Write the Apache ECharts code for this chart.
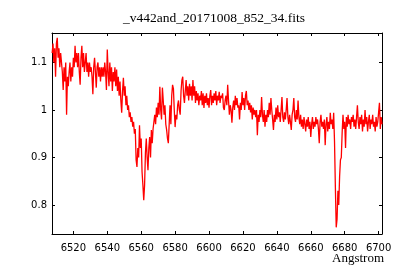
<!DOCTYPE html>
<html>
<head>
<meta charset="utf-8">
<script src="https://cdn.jsdelivr.net/npm/echarts@6/dist/echarts.min.js"></script>
<style>html,body{margin:0;padding:0;background:#fff}#c{width:400px;height:280px}</style>
</head>
<body>
<div id="c"></div>
<script>
const chartTitle = '_v442and_20171008_852_34.fits';
const xAxisTitle = 'Angstrom';
const xRange = [6507.4, 6702];
const yRange = [0.739, 1.162];
const lambdaStart = 6507.5;
const lambdaStep = 0.5;
const flux = [
 1.12,1.14,1.10,1.13,1.07,1.14,1.152,1.11,1.13,1.09,1.12,1.10,1.08,1.042,1.09,1.06,1.10,0.99,1.07,1.05,
 1.08,1.10,1.06,1.09,1.07,1.11,1.09,1.135,1.10,1.12,1.09,1.12,1.08,1.053,1.11,1.135,1.09,1.12,1.08,1.10,
 1.12,1.08,1.10,1.07,1.10,1.08,1.09,1.07,1.033,1.09,1.11,1.08,1.047,1.09,1.10,1.07,1.09,1.06,1.09,1.07,
 1.09,1.07,1.10,1.08,1.042,1.127,1.08,1.05,1.10,1.06,1.09,1.04,1.08,1.06,1.09,1.05,1.085,1.04,1.07,1.03,
 1.06,1.02,0.994,1.04,1.068,1.03,1.05,1.01,1.03,1.00,1.01,0.985,0.995,0.975,0.985,0.965,0.975,0.95,0.96,0.895,
 0.88,0.92,0.90,0.968,0.92,0.94,0.87,0.842,0.81,0.842,0.91,0.94,0.90,0.873,0.92,0.943,0.90,0.958,0.93,0.96,
 0.975,0.99,0.97,1.005,0.985,1.015,0.99,1.049,1.00,0.98,1.047,1.02,0.99,1.01,0.97,0.958,0.94,0.93,0.97,1.01,
 0.97,1.03,1.053,1.045,1.00,0.964,0.99,0.98,1.01,1.02,1.00,0.99,1.04,1.063,1.07,1.03,1.015,1.04,1.063,1.03,
 1.05,1.02,1.055,1.03,1.05,1.02,1.063,1.03,1.05,1.015,1.04,1.02,1.035,1.01,1.03,1.02,1.04,1.01,1.035,1.004,
 1.03,1.015,1.035,1.01,1.025,1.005,1.03,1.042,1.01,1.03,1.015,1.035,1.02,1.04,1.01,1.03,1.02,1.038,1.015,1.03,
 1.025,1.035,1.005,1.00,1.02,1.03,1.01,1.053,1.02,0.99,1.01,1.00,0.973,1.005,1.02,1.00,1.03,1.01,1.025,1.005,
 1.01,0.98,1.015,1.00,1.038,1.01,1.025,1.00,1.03,1.04,1.01,1.02,1.00,1.015,0.995,1.01,0.98,1.005,0.99,1.00,
 0.985,1.00,0.947,0.99,0.975,1.00,0.985,1.027,0.99,0.975,1.00,0.965,0.99,0.975,1.00,0.985,1.015,0.99,1.025,1.00,
 0.98,0.958,0.99,0.975,1.005,0.98,1.01,0.985,0.995,0.975,1.00,1.027,0.985,0.975,0.995,0.98,1.00,1.025,0.985,0.97,
 0.99,0.975,0.958,0.99,1.00,1.025,0.985,0.975,1.00,0.98,1.02,0.985,0.97,0.99,0.965,0.98,0.96,0.985,0.97,0.955,
 0.98,0.965,0.985,0.96,0.975,0.943,0.97,0.985,0.96,0.975,0.965,0.985,0.97,0.98,0.96,0.93,0.975,0.99,0.965,0.975,
 0.96,0.98,0.926,0.97,0.985,0.955,0.975,0.96,0.994,0.97,0.98,0.96,0.994,0.933,0.838,0.753,0.77,0.83,0.80,0.86,
 0.895,0.90,0.952,0.99,0.96,0.975,0.92,0.985,0.965,0.99,0.97,0.98,0.96,0.985,0.975,0.99,0.965,0.98,0.96,0.985,
 1.01,0.975,0.96,0.985,0.97,0.99,0.955,0.98,0.965,1.00,0.97,0.985,0.955,0.975,0.99,0.96,0.98,0.97,0.99,0.965,
 0.975,0.955,0.985,0.965,0.975,0.995,1.015,0.96,0.985,0.97
];
const seriesData = flux.map((v, i) => [lambdaStart + i * lambdaStep, v]);

const tickFont = 'DejaVu Sans';
const plain = v => String(Math.round(v * 1000) / 1000);
const common = {
  axisLine: {show: true, lineStyle: {color: '#000', width: 1}},
  axisTick: {show: true, inside: true, length: 3, lineStyle: {color: '#000', width: 1}},
  splitLine: {show: false},
  minorTick: {show: false}
};
const chart = echarts.init(document.getElementById('c'), null, {renderer: 'canvas'});
chart.setOption({
  animation: false,
  backgroundColor: '#fff',
  grid: {left: 52, top: 33, width: 330, height: 201, containLabel: false},
  xAxis: [
    Object.assign({type: 'value', position: 'bottom', min: xRange[0], max: xRange[1], splitNumber: 10,
      axisLabel: {show: true, color: '#000', fontFamily: tickFont, fontSize: 10, margin: 9, formatter: plain,
        showMinLabel: false, showMaxLabel: false}}, common),
    Object.assign({type: 'value', position: 'top', min: xRange[0], max: xRange[1], splitNumber: 10,
      axisLabel: {show: false}}, common)
  ],
  yAxis: [
    Object.assign({type: 'value', position: 'left', min: yRange[0], max: yRange[1], splitNumber: 4,
      axisLabel: {show: true, color: '#000', fontFamily: tickFont, fontSize: 10, margin: 5, formatter: plain,
        showMinLabel: false, showMaxLabel: false}}, common),
    Object.assign({type: 'value', position: 'right', min: yRange[0], max: yRange[1], splitNumber: 4,
      axisLabel: {show: false}}, common)
  ],
  graphic: [
    {type: 'text', x: 214, y: 18, style: {text: chartTitle, fill: '#000',
      font: '13.5px "Liberation Serif", "DejaVu Serif", serif', textAlign: 'center', textVerticalAlign: 'middle'}},
    {type: 'text', x: 384, y: 259, style: {text: xAxisTitle, fill: '#000',
      font: '13px "Liberation Serif", "DejaVu Serif", serif', textAlign: 'right', textVerticalAlign: 'middle'}}
  ],
  series: [{
    type: 'line', xAxisIndex: 0, yAxisIndex: 0, data: seriesData,
    showSymbol: false, symbol: 'none', smooth: false,
    lineStyle: {color: '#ff0000', width: 1.3}, clip: true
  }]
});
</script>
</body>
</html>
